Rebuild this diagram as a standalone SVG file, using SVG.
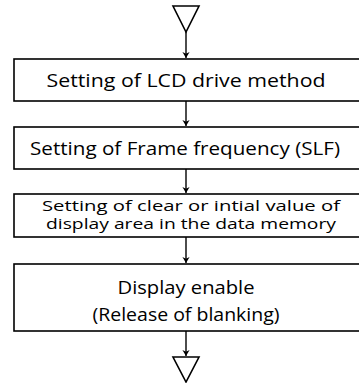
<svg xmlns="http://www.w3.org/2000/svg" width="359" height="383" viewBox="0 0 359 383">
<defs>
<style>
.box{fill:#fff;stroke:#000;stroke-width:1.6}
.t{font-family:"Open Sans","DejaVu Sans",sans-serif;font-size:19px;fill:#000;text-anchor:middle}
.s{font-size:15px}
.c{stroke:#000;stroke-width:1.4;fill:none}
.tri{fill:#fff;stroke:#000;stroke-width:1.6}
</style>
<marker id="ah" viewBox="0 0 10 20" refX="10" refY="10" markerWidth="6" markerHeight="12" markerUnits="userSpaceOnUse" orient="auto">
<path d="M0,4 L10,10 L0,16 L3,10 Z" fill="#000"/>
</marker>
</defs>
<g id="connectors">
<polygon class="tri" points="173,6 199,6 186,32"/>
<line class="c" x1="186" y1="32" x2="186" y2="58" marker-end="url(#ah)"/>
<line class="c" x1="186" y1="101" x2="186" y2="126" marker-end="url(#ah)"/>
<line class="c" x1="186" y1="169" x2="186" y2="193" marker-end="url(#ah)"/>
<line class="c" x1="186" y1="237" x2="186" y2="263" marker-end="url(#ah)"/>
<line class="c" x1="186" y1="331" x2="186" y2="356" marker-end="url(#ah)"/>
<polygon class="tri" points="173,357 199,357 186,382"/>
</g>
<g id="n1">
<rect class="box" x="14" y="59" width="347" height="42"/>
<text class="t" x="186" y="87" textLength="279" lengthAdjust="spacingAndGlyphs">Setting of LCD drive method</text>
</g>
<g id="n2">
<rect class="box" x="14" y="127" width="347" height="42"/>
<text class="t" x="185" y="155" textLength="310" lengthAdjust="spacingAndGlyphs">Setting of Frame frequency (SLF)</text>
</g>
<g id="n3">
<rect class="box" x="14" y="194" width="347" height="43"/>
<text class="t s" x="191" y="211" textLength="298" lengthAdjust="spacingAndGlyphs">Setting of clear or intial value of</text>
<text class="t s" x="191" y="229" textLength="290" lengthAdjust="spacingAndGlyphs">display area in the data memory</text>
</g>
<g id="n4">
<rect class="box" x="14" y="264" width="347" height="67"/>
<text class="t" x="186" y="294" textLength="137" lengthAdjust="spacingAndGlyphs">Display enable</text>
<text class="t" x="186" y="321" textLength="187" lengthAdjust="spacingAndGlyphs">(Release of blanking)</text>
</g>
</svg>
